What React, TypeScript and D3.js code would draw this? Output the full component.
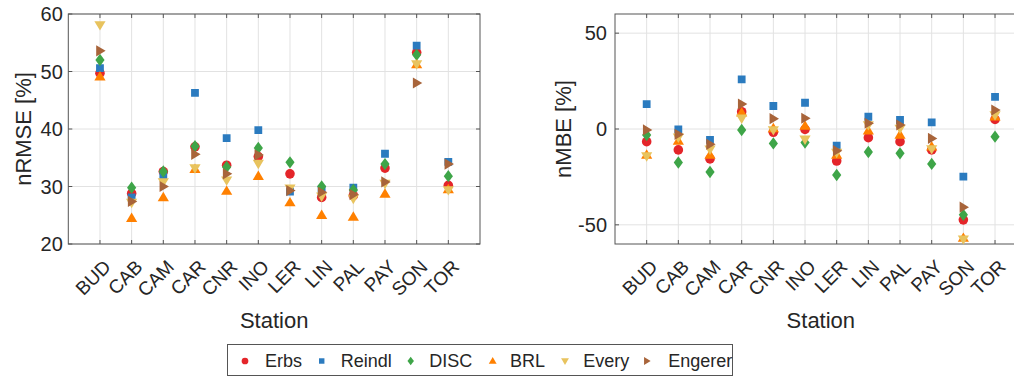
import React from 'react';
import * as d3 from 'd3';

const stations = ['BUD', 'CAB', 'CAM', 'CAR', 'CNR', 'INO', 'LER', 'LIN', 'PAL', 'PAY', 'SON', 'TOR'];
const seriesNames = ['Erbs', 'Reindl', 'DISC', 'BRL', 'Every', 'Engerer'];
const seriesColors = ['#e4252a', '#2b7bbf', '#3ea548', '#ff8000', '#e8c35e', '#a8643a'];
const seriesShapes = ['circle', 'square', 'diamond', 'up', 'down', 'right'];

// nRMSE [%]
const rmseErbs = [49.7, 28.8, 32.6, 36.9, 33.7, 35.2, 32.2, 28.1, 28.4, 33.2, 53.3, 30.2];
const rmseReindl = [50.6, 28.1, 31.8, 46.3, 38.4, 39.8, 29.1, 29.5, 29.8, 35.7, 54.5, 34.3];
const rmseDisc = [52.0, 29.8, 32.6, 37.0, 33.4, 36.7, 34.2, 30.0, 29.4, 33.9, 52.9, 31.8];
const rmseBrl = [49.1, 24.5, 28.1, 33.0, 29.2, 31.8, 27.2, 25.0, 24.7, 28.7, 51.2, 29.5];
const rmseEvery = [58.1, 27.2, 30.8, 33.2, 31.1, 34.0, 29.7, 28.3, 27.9, 30.5, 51.3, 29.4];
const rmseEngerer = [53.6, 27.4, 30.0, 35.6, 32.2, 35.5, 29.3, 29.0, 28.6, 30.8, 48.0, 33.9];

// nMBE [%]
const mbeErbs = [-6.6, -10.9, -15.6, 9.0, -1.7, -0.2, -16.7, -4.5, -6.6, -10.9, -47.4, 5.0];
const mbeReindl = [13.0, -0.2, -5.7, 25.9, 12.0, 13.7, -8.7, 6.4, 4.7, 3.5, -24.8, 16.8];
const mbeDisc = [-3.1, -17.5, -22.4, -0.5, -7.5, -7.1, -24.0, -12.0, -12.7, -18.2, -44.8, -4.0];
const mbeBrl = [-13.5, -6.2, -13.5, 8.5, 0.3, 1.6, -13.5, -0.9, -3.1, -9.2, -56.9, 6.4];
const mbeEvery = [-14.1, -4.3, -10.6, 5.6, -0.5, -5.4, -12.3, 2.1, 0.3, -10.4, -57.5, 7.3];
const mbeEngerer = [-0.5, -2.8, -8.0, 13.0, 5.4, 5.6, -11.3, 3.0, 2.1, -4.9, -40.8, 9.9];

const rmseTicks = [20, 30, 40, 50, 60];
const mbeTicks = [-50, 0, 50];

const FONT = '"Liberation Sans", Arial, Helvetica, sans-serif';
const TEXT = '#262626';
const AXIS = '#555555';
const GRID = '#e2e2e2';

function markerPath(shape: string, k: number): string {
  switch (shape) {
    case 'circle': {
      const r = 4.8 * k;
      return `M${r},0A${r},${r},0,1,1,${-r},0A${r},${r},0,1,1,${r},0Z`;
    }
    case 'square': {
      const h = 3.9 * k;
      return `M${-h},${-h}L${h},${-h}L${h},${h}L${-h},${h}Z`;
    }
    case 'diamond': {
      const w = 4.6 * k, h = 6.2 * k;
      return `M0,${-h}L${w},0L0,${h}L${-w},0Z`;
    }
    case 'up': {
      const w = 5.6 * k, h = 9.4 * k;
      return `M0,${-h * 0.6}L${w},${h * 0.4}L${-w},${h * 0.4}Z`;
    }
    case 'down': {
      const w = 5.6 * k, h = 9.4 * k;
      return `M0,${h * 0.6}L${w},${-h * 0.4}L${-w},${-h * 0.4}Z`;
    }
    case 'right': {
      const w = 9.4 * k, h = 5.6 * k;
      return `M${w * 0.6},0L${-w * 0.4},${h}L${-w * 0.4},${-h}Z`;
    }
  }
  return '';
}

type PanelProps = {
  x0: number;
  x1: number;
  y0: number;
  y1: number;
  yDomain: [number, number];
  yTicks: number[];
  yLabel: string;
  yLabelX: number;
  tickLabelGap: number;
  series: number[][];
  clipId: string;
};

function Panel(p: PanelProps) {
  const x = d3.scaleLinear().domain([0, stations.length + 1]).range([p.x0, p.x1]);
  const y = d3.scaleLinear().domain(p.yDomain).range([p.y1, p.y0]);
  const idx = stations.map((_, i) => i + 1);
  const tl = 4;
  return (
    <g>
      <defs>
        <clipPath id={p.clipId}>
          <rect x={p.x0} y={p.y0 - 10} width={p.x1 - p.x0} height={p.y1 - p.y0 + 20} />
        </clipPath>
      </defs>
      {/* grid */}
      {idx.map((i) => (
        <line key={'gx' + i} x1={x(i)} x2={x(i)} y1={p.y0} y2={p.y1} stroke={GRID} strokeWidth={1} />
      ))}
      {p.yTicks.map((t) => (
        <line key={'gy' + t} x1={p.x0} x2={p.x1} y1={y(t)} y2={y(t)} stroke={GRID} strokeWidth={1} />
      ))}
      {/* ticks */}
      {idx.map((i) => (
        <g key={'tx' + i}>
          <line x1={x(i)} x2={x(i)} y1={p.y1} y2={p.y1 - tl} stroke={AXIS} />
          <line x1={x(i)} x2={x(i)} y1={p.y0} y2={p.y0 + tl} stroke={AXIS} />
        </g>
      ))}
      {p.yTicks.map((t) => (
        <g key={'ty' + t}>
          <line x1={p.x0} x2={p.x0 + tl} y1={y(t)} y2={y(t)} stroke={AXIS} />
          <line x1={p.x1} x2={p.x1 - tl} y1={y(t)} y2={y(t)} stroke={AXIS} />
        </g>
      ))}
      {/* box */}
      <rect x={p.x0} y={p.y0} width={p.x1 - p.x0} height={p.y1 - p.y0} fill="none" stroke={AXIS} strokeWidth={1} />
      {/* markers */}
      <g clipPath={`url(#${p.clipId})`}>
        {p.series.map((vals, s) => (
          <g key={'s' + s} fill={seriesColors[s]}>
            {vals.map((v, i) => (
              <path key={i} d={markerPath(seriesShapes[s], 1)} transform={`translate(${x(i + 1)},${y(v)})`} />
            ))}
          </g>
        ))}
      </g>
      {/* y tick labels */}
      {p.yTicks.map((t) => (
        <text
          key={'yl' + t}
          x={p.x0 - p.tickLabelGap}
          y={y(t)}
          dy="0.36em"
          textAnchor="end"
          fontFamily={FONT}
          fontSize={20}
          fill={TEXT}
        >
          {t}
        </text>
      ))}
      {/* x tick labels */}
      {stations.map((st, i) => (
        <text
          key={'xl' + st}
          transform={`translate(${x(i + 1) + 12},${p.y1 + 24}) rotate(-45)`}
          textAnchor="end"
          fontFamily={FONT}
          fontSize={19}
          fill={TEXT}
        >
          {st}
        </text>
      ))}
      {/* axis labels */}
      <text
        transform={`translate(${p.yLabelX},${(p.y0 + p.y1) / 2}) rotate(-90)`}
        textAnchor="middle"
        fontFamily={FONT}
        fontSize={22}
        fill={TEXT}
      >
        {p.yLabel}
      </text>
      <text x={(p.x0 + p.x1) / 2} y={328} textAnchor="middle" fontFamily={FONT} fontSize={22} fill={TEXT}>
        Station
      </text>
    </g>
  );
}

function Legend() {
  const markerX = [245, 321.7, 410.7, 492.7, 565, 646.7];
  const textX = [265, 340.7, 429.3, 510, 583.3, 668.3];
  return (
    <g>
      <rect x={227.5} y={344.5} width={505} height={31} fill="#ffffff" stroke={AXIS} strokeWidth={1} />
      {seriesNames.map((n, s) => (
        <g key={n}>
          <path d={markerPath(seriesShapes[s], 0.7)} transform={`translate(${markerX[s]},${361})`} fill={seriesColors[s]} />
          <text x={textX[s]} y={361} dy="0.36em" fontFamily={FONT} fontSize={18} fill={TEXT}>
            {n}
          </text>
        </g>
      ))}
    </g>
  );
}

export default function App() {
  return (
    <svg
      width={1014}
      height={380}
      viewBox="0 0 1014 380"
      style={{ position: 'absolute', left: 0, top: 0, background: '#ffffff' }}
    >
      <rect x={0} y={0} width={1014} height={380} fill="#ffffff" />
      <Panel
        x0={68.3}
        x1={480}
        y0={14}
        y1={244}
        yDomain={[20, 60]}
        yTicks={rmseTicks}
        yLabel="nRMSE [%]"
        yLabelX={31}
        tickLabelGap={5.5}
        series={[rmseErbs, rmseReindl, rmseDisc, rmseBrl, rmseEvery, rmseEngerer]}
        clipId="clipL"
      />
      <Panel
        x0={615}
        x1={1026.7}
        y0={14}
        y1={244}
        yDomain={[-60, 60]}
        yTicks={mbeTicks}
        yLabel="nMBE [%]"
        yLabelX={571}
        tickLabelGap={8}
        series={[mbeErbs, mbeReindl, mbeDisc, mbeBrl, mbeEvery, mbeEngerer]}
        clipId="clipR"
      />
      <Legend />
    </svg>
  );
}
